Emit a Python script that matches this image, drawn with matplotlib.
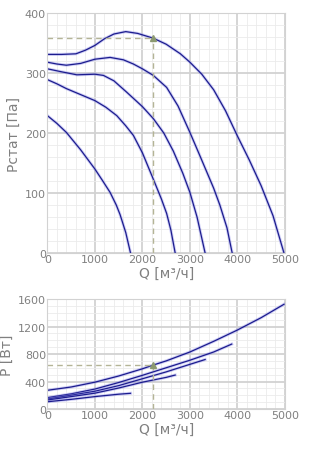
import numpy as np
import matplotlib
matplotlib.use("Agg")
import matplotlib.pyplot as plt
from matplotlib.ticker import MultipleLocator

# pressure curves (Q, Pstat)
q1 = [0, 300, 600, 800, 1000, 1200, 1400, 1650, 1900, 2230, 2500, 2800, 3000, 3250, 3500, 3750, 4000, 4250, 4500, 4750, 4980]
p1 = [331, 331, 332, 338, 346, 357, 365, 369, 366, 358, 348, 332, 318, 298, 272, 237, 195, 155, 112, 62, 0]
q2 = [0, 200, 400, 700, 1000, 1320, 1600, 1810, 2000, 2230, 2510, 2750, 3000, 3200, 3350, 3500, 3630, 3780, 3890]
p2 = [318, 315, 313, 316, 323, 326, 322, 315, 307, 296, 276, 245, 201, 164, 136, 108, 80, 42, 0]
q3 = [0, 300, 620, 1000, 1180, 1400, 1670, 2000, 2230, 2450, 2650, 2850, 3000, 3150, 3320]
p3 = [307, 302, 297, 298, 296, 287, 268, 244, 224, 200, 170, 133, 101, 60, 0]
q4 = [0, 200, 400, 700, 1000, 1230, 1460, 1650, 1810, 2000, 2230, 2400, 2510, 2600, 2690]
p4 = [289, 282, 274, 264, 254, 243, 229, 212, 196, 167, 123, 90, 66, 38, 0]
q5 = [0, 200, 400, 700, 1000, 1150, 1320, 1450, 1530, 1650, 1750]
p5 = [229, 216, 201, 172, 140, 122, 101, 80, 64, 34, 0]

# power curves (Q, P)
wq1 = [0, 500, 1000, 1500, 2000, 2230, 2500, 3000, 3500, 4000, 4500, 4980]
w1 = [272, 320, 390, 480, 585, 640, 700, 830, 985, 1150, 1330, 1525]
wq2 = [0, 500, 1000, 1500, 2000, 2500, 3000, 3500, 3880]
w2 = [165, 220, 290, 385, 490, 600, 710, 830, 945]
wq3 = [0, 500, 1000, 1500, 2000, 2500, 3000, 3320]
w3 = [145, 200, 258, 340, 440, 540, 650, 720]
wq4 = [0, 500, 1000, 1500, 2000, 2500, 2690]
w4 = [130, 180, 230, 305, 390, 460, 494]
wq5 = [0, 500, 1000, 1500, 1750]
w5 = [105, 140, 180, 215, 228]

# working point
q_op = 2230
p_op = 358
w_op = 640

line_c = "#1c1c8e"
mark_c = "#8c9970"
dash_c = "#b4b496"
txt_c = "#808080"

fig = plt.figure(figsize=(3.18, 4.52), dpi=100)
ax1 = fig.add_axes([0.149, 0.438, 0.747, 0.531])
ax2 = fig.add_axes([0.149, 0.093, 0.747, 0.243])


def style(ax, ymax, ystep, yminor):
    ax.set_xlim(0, 5000)
    ax.set_ylim(0, ymax)
    ax.xaxis.set_major_locator(MultipleLocator(1000))
    ax.xaxis.set_minor_locator(MultipleLocator(200))
    ax.yaxis.set_major_locator(MultipleLocator(ystep))
    ax.yaxis.set_minor_locator(MultipleLocator(yminor))
    ax.grid(which="major", color="#d2d2d2", lw=1.3)
    ax.grid(which="minor", color="#ebebeb", lw=0.6)
    ax.set_axisbelow(True)
    ax.tick_params(which="both", length=0, colors=txt_c, labelsize=8, pad=1)
    for s in ax.spines.values():
        s.set_color("#d2d2d2")


style(ax1, 400, 100, 20)
style(ax2, 1600, 400, 100)

for q, p in [(q1, p1), (q2, p2), (q3, p3), (q4, p4), (q5, p5)]:
    ax1.plot(q, p, color="#7a7ae6", lw=2.2, alpha=0.35, solid_joinstyle="round")
    ax1.plot(q, p, color=line_c, lw=0.9, solid_joinstyle="round")
for q, w in [(wq1, w1), (wq2, w2), (wq3, w3), (wq4, w4), (wq5, w5)]:
    ax2.plot(q, w, color="#7a7ae6", lw=2.2, alpha=0.35, solid_joinstyle="round")
    ax2.plot(q, w, color=line_c, lw=0.9, solid_joinstyle="round")

ax1.plot([0, q_op], [p_op, p_op], color=dash_c, lw=1, ls=(0, (4, 3)))
ax1.plot([q_op, q_op], [0, p_op], color=dash_c, lw=1, ls=(0, (4, 3)))
ax1.plot(q_op, p_op, marker="^", color=mark_c, ms=5)
ax2.plot([0, q_op], [w_op, w_op], color=dash_c, lw=1, ls=(0, (4, 3)))
ax2.plot([q_op, q_op], [0, w_op], color=dash_c, lw=1, ls=(0, (4, 3)))
ax2.plot(q_op, w_op, marker="^", color=mark_c, ms=5)

ax1.set_ylabel("Рстат [Па]", color=txt_c, fontsize=10, labelpad=3)
ax1.set_xlabel("Q [м³/ч]", color=txt_c, fontsize=10, labelpad=1)
ax2.set_ylabel("P [Вт]", color=txt_c, fontsize=10, labelpad=3)
ax2.set_xlabel("Q [м³/ч]", color=txt_c, fontsize=10, labelpad=1)

fig.savefig("out.png", dpi=100)
